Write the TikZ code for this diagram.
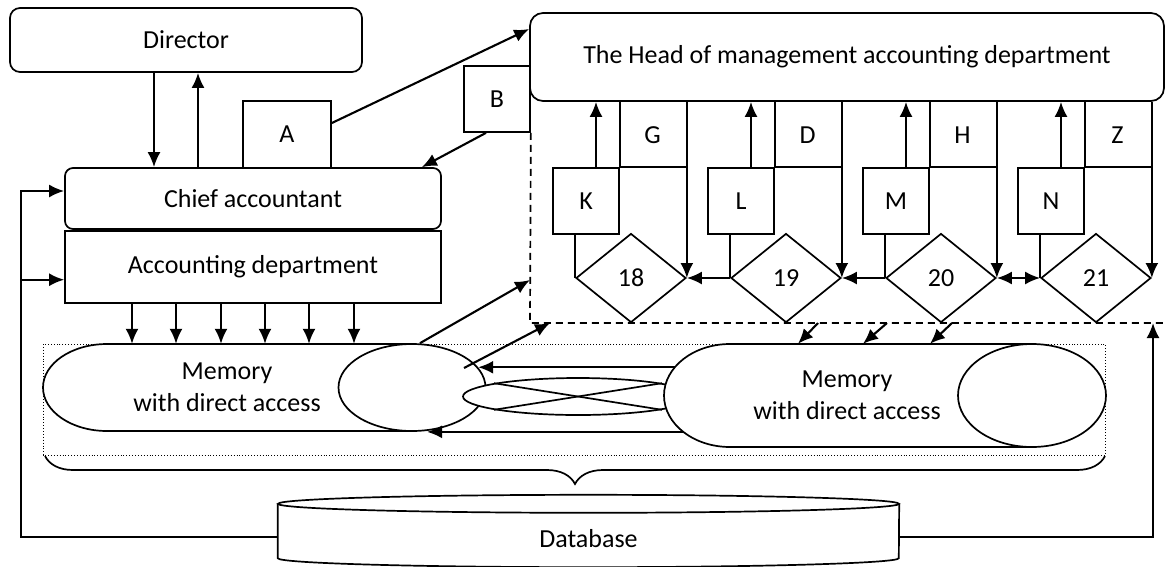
\documentclass[tikz,border=0pt]{standalone}
\usepackage{fontspec}
\setmainfont{Carlito}
\usetikzlibrary{arrows.meta,shapes.geometric,decorations.pathreplacing,positioning}

\tikzset{
	box/.style={draw, line width=1.7pt, inner sep=0pt},
	rbox/.style={box, rounded corners=10pt},
	dia/.style={diamond, draw, line width=1.7pt, inner sep=0pt, minimum width=110pt, minimum height=89pt},
	arr/.style={->, >={Latex[length=15pt,width=13pt]}, line width=2.1pt},
	sub/.style={line width=1.7pt, dash pattern=on 7pt off 5pt},
	thin line/.style={line width=1.7pt}
}

\begin{document}
\begin{tikzpicture}[x=1pt, y=-1pt, font=\fontsize{26}{32}\selectfont]
	\useasboundingbox (0,0) rectangle (1167,566);
	
	% upper part
	\node[rbox, minimum width=352pt, minimum height=64pt] (director) at (186,40) {Director};
	\node[rbox, rounded corners=13pt, minimum width=634pt, minimum height=88pt] (head) at (847,57) {The Head of management accounting department};
	\node[rbox, rounded corners=8pt, minimum width=376pt, minimum height=61pt] (chief) at (253,198.5) {Chief accountant};
	\node[box, minimum width=376pt, minimum height=72pt, below=0pt of chief] (acc) {Accounting department};
	\node[box, minimum width=88pt, minimum height=67pt] (A) at (287,134.5) {A};
	\node[box, minimum width=66pt, minimum height=66pt] (B) at (497,99) {B};
	
	\draw[arr] ([xshift=-32pt]director.south) -- ([xshift=-99pt]chief.north);
	\draw[arr] ([xshift=-55pt]chief.north) -- ([xshift=12pt]director.south);
	\draw[arr] ([yshift=11.5pt]A.east) -- ([yshift=28pt]head.west);
	\draw[arr] ([xshift=-11pt]B.south) -- ([xshift=-20pt]chief.north east);
	
	% boxes under the head
	\node[box, minimum width=66pt, minimum height=66pt] (K) at (586,201) {K};
	\node[box, minimum width=66pt, minimum height=66pt] (L) at (741,201) {L};
	\node[box, minimum width=66pt, minimum height=66pt] (M) at (896,201) {M};
	\node[box, minimum width=66pt, minimum height=66pt] (N) at (1051,201) {N};
	
	\node[dia] (d18) at (631,278) {18};
	\node[dia] (d19) at (786,278) {19};
	\node[dia] (d20) at (941,278) {20};
	\node[dia] (d21) at (1096,278) {21};
	
	\node (G) at (652.5,135) {G};
	\node (D) at (807.5,135) {D};
	\node (H) at (962.5,135) {H};
	\node (Z) at (1117.5,135) {Z};
	
	\draw[arr] ([xshift=10pt]K.north) -- ([xshift=10pt]K.north |- head.south);
	\draw[arr] ([xshift=10pt]L.north) -- ([xshift=10pt]L.north |- head.south);
	\draw[arr] ([xshift=10pt]M.north) -- ([xshift=10pt]M.north |- head.south);
	\draw[arr] ([xshift=10pt]N.north) -- ([xshift=10pt]N.north |- head.south);
	
	\draw[thin line] (K.north east |- head.south) -- (K.north east) -- (K.north east -| d18.east);
	\draw[thin line] (L.north east |- head.south) -- (L.north east) -- (L.north east -| d19.east);
	\draw[thin line] (M.north east |- head.south) -- (M.north east) -- (M.north east -| d20.east);
	\draw[thin line] (N.north east |- head.south) -- (N.north east) -- (N.north east -| d21.east);
	
	\draw[arr] (d18.east |- head.south) -- (d18.east);
	\draw[arr] (d19.east |- head.south) -- (d19.east);
	\draw[arr] (d20.east |- head.south) -- (d20.east);
	\draw[arr] (d21.east |- head.south) -- (d21.east);
	
	\draw[thin line] (d18.west |- K.south) -- (d18.west);
	\draw[thin line] (d19.west |- L.south) -- (d19.west);
	\draw[thin line] (d20.west |- M.south) -- (d20.west);
	\draw[thin line] (d21.west |- N.south) -- (d21.west);
	
	\draw[arr] (d19.west) -- (d18.east);
	\draw[arr] (d20.west) -- (d19.east);
	\draw[arr,<->] (d20.east) -- (d21.west);
	
	\coordinate (dbot) at (530,323);
	\coordinate (dend) at (1167,323);
	\draw[sub] (B.south east) -- (dbot) -- (dend);
	
	% memory
	\draw[dotted, line width=0.9pt] (43,344) rectangle (1105,455);
	\draw[thin line, decorate, decoration={brace, mirror, amplitude=28pt}] (45,456) -- (1105,456);
	
	\draw[thin line, fill=white] (412,344) -- (107,344) arc[start angle=90, end angle=270, x radius=64pt, y radius=43.5pt] -- (412,431);
	\node[minimum height=87pt, align=center] (memL) at (227,387.5) {Memory\\with direct access};
	\node[ellipse, draw, fill=white, line width=1.7pt, inner sep=0pt, minimum width=147pt, minimum height=87pt] (eL) at (412,387.5) {};
	\node[ellipse, draw, fill=white, line width=1.7pt, inner sep=0pt, minimum width=230pt, minimum height=37pt] (link) at (578,396.5) {};
	\draw[thin line] (link.171) -- (link.-9);
	\draw[thin line] (link.189) -- (link.9);
	
	\node[minimum height=103pt, align=center] (memR) at (847,395.5) {};
	\draw[arr] (memR.west |- eL.17) -- (eL.17);
	\draw[arr] (memR.west |- eL.south) -- ([xshift=15pt]eL.south);
	
	\draw[thin line, fill=white] (1032,344) -- (730,344) arc[start angle=90, end angle=270, x radius=66pt, y radius=51.5pt] -- (1032,447);
	\node[ellipse, draw, fill=white, line width=1.7pt, inner sep=0pt, minimum width=148pt, minimum height=103pt] (eR) at (1032,395.5) {};
	\node[align=center] (memRtext) at (memR.center) {Memory\\with direct access};
	
	\draw[arr] (acc.south -| 132,0) -- (memL.north -| 132,0);
	\draw[arr] (acc.south -| 176,0) -- (memL.north -| 176,0);
	\draw[arr] (acc.south -| 221,0) -- (memL.north -| 221,0);
	\draw[arr] (acc.south -| 265,0) -- (memL.north -| 265,0);
	\draw[arr] (acc.south -| 309,0) -- (memL.north -| 309,0);
	\draw[arr] (acc.south -| 354,0) -- (memL.north -| 354,0);
	
	\coordinate (s2) at (464,368);
	\draw[arr] ([xshift=8pt]eL.north) -- (dbot |- 0,280);
	\draw[arr] (s2) -- (dbot -| 550,0);
	
	\draw[arr] (dbot -| 818,0) -- (memR.north -| 798,0);
	\draw[arr] (dbot -| 887,0) -- (memR.north -| 863,0);
	\draw[arr] (dbot -| 952,0) -- (memR.north -| 930,0);
	
	% database
	\node[minimum width=621pt, minimum height=54pt, inner sep=0pt] (db) at (588.5,531) {};
	\draw[thin line, fill=white] (db.north west) -- (db.south west) arc[start angle=180, end angle=360, x radius=310.5pt, y radius=9pt] -- (db.north east);
	\draw[thin line, fill=white] (db.north) ellipse[x radius=310.5pt, y radius=9pt];
	\node (dbtext) at ([yshift=-8pt]db.center) {Database};
	
	\draw[arr] ([yshift=-6pt]db.west) -| ([xshift=-43pt,yshift=7.5pt]chief.west) -- ([yshift=7.5pt]chief.west);
	\draw[arr] ([xshift=-43pt,yshift=-13pt]acc.west) -- ([yshift=-13pt]acc.west);
	\draw[arr] ([yshift=-6pt]db.east) -| (dbot -| 1153,0);
\end{tikzpicture}
\end{document}
